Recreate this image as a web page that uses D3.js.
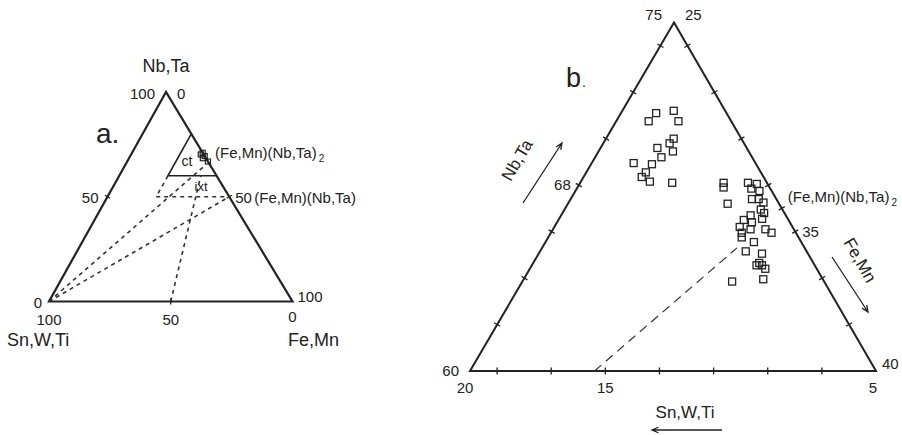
<!DOCTYPE html>
<html>
<head>
<meta charset="utf-8">
<script src="https://cdn.jsdelivr.net/npm/d3@7"></script>
<style>
  body { margin: 0; background: #fff; }
  text { font-family: "Liberation Sans", Arial, sans-serif; fill: #222; }
</style>
</head>
<body>
<div class="box"></div>
<script>
//////////////////données panneau a (en %)///////////////////////
// (Nb,Ta) et (Fe,Mn) ; Sn,W,Ti = le reste
const aPointsNb = [71, 69.4, 68.4, 66.8, 70.2];
const aPointsFe = [29, 30.6, 30.3, 33.2, 28.6];

// champ ct (trait plein)
const aChampCt = [[80, 20], [60, 20], [60, 40]];

// traits pointillés
const aTirets = [
    [[60, 20], [50, 20]],
    [[50, 20], [50, 50]],
    [[0, 0], [64, 32.4]],
    [[0, 0], [50, 50]],
    [[0, 50], [60, 33.5]]
];
const aGraduations = [50];

//////////////////données panneau b (en %)///////////////////////
const groupe1 = [
    {nb: 71.1, fe: 26.3}, {nb: 70.75, fe: 26.2}, {nb: 71.2, fe: 26.9}, {nb: 70.75, fe: 27.3},
    {nb: 70.0, fe: 27.5}, {nb: 69.8, fe: 27.45}, {nb: 69.6, fe: 27.1}, {nb: 69.45, fe: 27.75},
    {nb: 69.2, fe: 27.45}, {nb: 68.95, fe: 26.55}, {nb: 68.9, fe: 27.25}, {nb: 68.55, fe: 27.2},
    {nb: 68.35, fe: 27.15}, {nb: 68.15, fe: 27.55}, {nb: 68.1, fe: 28.4}
];
const groupe2 = [
    {nb: 68.1, fe: 30.3}, {nb: 67.9, fe: 30.4}, {nb: 67.2, fe: 30.9}, {nb: 68.1, fe: 31.2},
    {nb: 68.05, fe: 31.55}, {nb: 67.85, fe: 31.45}, {nb: 67.75, fe: 31.8}, {nb: 67.4, fe: 31.7},
    {nb: 67.4, fe: 31.95}, {nb: 67.25, fe: 32.2}, {nb: 66.95, fe: 32.25}, {nb: 66.8, fe: 32.45},
    {nb: 66.7, fe: 32.0}, {nb: 66.55, fe: 32.5}, {nb: 66.5, fe: 31.85}, {nb: 66.4, fe: 32.2},
    {nb: 66.2, fe: 31.85}, {nb: 66.1, fe: 32.3}, {nb: 66.1, fe: 32.85}, {nb: 65.95, fe: 33.15},
    {nb: 65.95, fe: 32.05}, {nb: 65.75, fe: 32.15}, {nb: 65.55, fe: 32.7}, {nb: 65.15, fe: 32.6},
    {nb: 65.05, fe: 33.25}, {nb: 64.55, fe: 33.3}, {nb: 64.55, fe: 33.5}, {nb: 64.4, fe: 33.7},
    {nb: 63.95, fe: 33.85}, {nb: 63.85, fe: 32.75}, {nb: 64.65, fe: 33.35}
];
const bTicksNb = [62, 64, 66, 68, 70, 72, 74];
const bTicksFe = [26, 28, 30, 32, 33, 34, 36, 38];
const bTicksSn = [7, 9, 11, 13, 15, 17, 19];
const bLigne = [[60, 29.6], [65.3, 32.2]];

//////////////////mise en place///////////////////////
const svg = d3.select('.box')
              .append('svg')
              .attr('width', 902)
              .attr('height', 435);

// projection ternaire : coin haut = Nb,Ta ; gauche = Sn,W,Ti ; droite = Fe,Mn
const ternaire = (s, domNb, domFe) => {
    const u = d3.scaleLinear().domain(domNb).range([0, 1]);
    const v = d3.scaleLinear().domain(domFe).range([0, 1]);
    return (nb, fe) => [
        s.gauche[0] + (s.haut[0] - s.gauche[0]) * u(nb) + (s.droite[0] - s.gauche[0]) * v(fe),
        s.gauche[1] + (s.haut[1] - s.gauche[1]) * u(nb) + (s.droite[1] - s.gauche[1]) * v(fe)
    ];
};

const ligne = d3.line();

const texte = (g, x, y, t, taille, ancre) =>
    g.append('text').attr('x', x).attr('y', y).attr('font-size', taille)
     .attr('text-anchor', ancre || 'start').text(t);

// formule avec indice 2
const formule = (g, x, y, taille) => {
    const t = texte(g, x, y, '(Fe,Mn)(Nb,Ta)', taille);
    t.append('tspan').attr('dy', 4).attr('dx', 2).attr('font-size', 10).text('2');
};

// petite graduation perpendiculaire au côté
const graduation = (g, p, a, b, l) => {
    const dx = b[0] - a[0], dy = b[1] - a[1], n = Math.hypot(dx, dy);
    const nx = -dy / n * l, ny = dx / n * l;
    g.append('path')
     .attr('d', ligne([[p[0] - nx, p[1] - ny], [p[0] + nx, p[1] + ny]]))
     .attr('stroke', '#222').attr('stroke-width', 1.3).attr('fill', 'none');
};

const fleche = (g, de, a) => {
    const ang = Math.atan2(a[1] - de[1], a[0] - de[0]);
    const t = 7, o = 0.4;
    g.append('path')
     .attr('d', ligne([de, a]) + 'M' + (a[0] - t * Math.cos(ang - o)) + ',' + (a[1] - t * Math.sin(ang - o)) +
          'L' + a[0] + ',' + a[1] + 'L' + (a[0] - t * Math.cos(ang + o)) + ',' + (a[1] - t * Math.sin(ang + o)))
     .attr('stroke', '#222').attr('stroke-width', 1.3).attr('fill', 'none');
};

//////////////////panneau a///////////////////////
const ga = svg.append('g');
const sa = {haut: [166, 92], gauche: [49, 301.5], droite: [292.5, 301.5]};
const pa = ternaire(sa, [0, 100], [0, 100]);

ga.append('path')
  .attr('d', ligne([pa(100, 0), pa(0, 0), pa(0, 100)]) + 'Z')
  .attr('fill', 'none').attr('stroke', '#222').attr('stroke-width', 2.2)
  .attr('stroke-linejoin', 'miter');

ga.append('path')
  .attr('d', ligne(aChampCt.map(d => pa(d[0], d[1]))))
  .attr('fill', 'none').attr('stroke', '#222').attr('stroke-width', 1.6);

ga.selectAll('.tiret')
  .data(aTirets)
  .enter()
  .append('path')
  .attr('d', d => ligne(d.map(p => pa(p[0], p[1]))))
  .attr('fill', 'none').attr('stroke', '#333').attr('stroke-width', 1.6)
  .attr('stroke-dasharray', '4,4');

aGraduations.forEach(v => {
    graduation(ga, pa(v, 0), pa(0, 0), pa(100, 0), 3);
    graduation(ga, pa(0, v), pa(0, 0), pa(0, 100), 3);
    graduation(ga, pa(v, 100 - v), pa(100, 0), pa(0, 100), 3);
});

ga.selectAll('rect')
  .data(aPointsNb)
  .enter()
  .append('rect')
  .attr('x', (d, i) => pa(d, aPointsFe[i])[0] - 2.5)
  .attr('y', (d, i) => pa(d, aPointsFe[i])[1] - 2.5)
  .attr('width', 5).attr('height', 5)
  .attr('fill', 'none').attr('stroke', '#222').attr('stroke-width', 1.2);

const A = pa(100, 0), G = pa(0, 0), D = pa(0, 100);
texte(ga, A[0], 72, 'Nb,Ta', 18, 'middle');
texte(ga, A[0] - 11, 99, '100', 15, 'end');
texte(ga, A[0] + 11, 99, '0', 15);
texte(ga, 96, 143, 'a.', 28);
texte(ga, pa(50, 0)[0] - 9, pa(50, 0)[1] + 6, '50', 15, 'end');
texte(ga, pa(50, 50)[0] + 6, pa(50, 50)[1] + 6, '50', 15);
texte(ga, pa(50, 50)[0] + 25, pa(50, 50)[1] + 6, '(Fe,Mn)(Nb,Ta)', 15);
formule(ga, 215, 158, 15);
texte(ga, 187, 166, 'ct', 14, 'middle');
texte(ga, 201, 191, 'ixt', 13, 'middle');
texte(ga, G[0] - 7, G[1] + 6, '0', 15, 'end');
texte(ga, G[0], 325, '100', 15, 'middle');
texte(ga, pa(0, 50)[0], 325, '50', 15, 'middle');
texte(ga, D[0], 322, '0', 15, 'middle');
texte(ga, D[0] + 5, 302, '100', 15);
texte(ga, 7, 346, 'Sn,W,Ti', 18);
texte(ga, 288, 346, 'Fe,Mn', 18);

//////////////////panneau b///////////////////////
const gb = svg.append('g');
const sb = {haut: [674, 22.5], gauche: [470, 371], droite: [876, 371]};
const pb = ternaire(sb, [60, 75], [25, 40]);

gb.append('path')
  .attr('d', ligne([pb(75, 25), pb(60, 25), pb(60, 40)]) + 'Z')
  .attr('fill', 'none').attr('stroke', '#222').attr('stroke-width', 2)
  .attr('stroke-linejoin', 'miter');

// graduations : gauche Nb,Ta ; droite Fe,Mn ; bas Sn,W,Ti
bTicksNb.forEach(v => graduation(gb, pb(v, 25), pb(60, 25), pb(75, 25), 3.5));
bTicksFe.forEach(v => graduation(gb, pb(100 - v, v), pb(75, 25), pb(60, 40), 3.5));
bTicksSn.forEach(v => graduation(gb, pb(60, 45 - v), pb(60, 25), pb(60, 40), 3.5));

gb.append('path')
  .attr('d', ligne(bLigne.map(p => pb(p[0], p[1]))))
  .attr('fill', 'none').attr('stroke', '#333').attr('stroke-width', 1.2)
  .attr('stroke-dasharray', '9,6');

gb.selectAll('rect')
  .data(groupe1.concat(groupe2))
  .enter()
  .append('rect')
  .attr('x', d => pb(d.nb, d.fe)[0] - 3.5)
  .attr('y', d => pb(d.nb, d.fe)[1] - 3.5)
  .attr('width', 7).attr('height', 7)
  .attr('fill', 'none').attr('stroke', '#222').attr('stroke-width', 1.3);

const Ab = pb(75, 25), Gb = pb(60, 25), Db = pb(60, 40);
texte(gb, Ab[0] - 12, 20, '75', 15, 'end');
texte(gb, Ab[0] + 11, 20, '25', 15);
texte(gb, 566, 87, 'b', 27);
texte(gb, 582, 87, '.', 14);
texte(gb, pb(68, 25)[0] - 8, pb(68, 25)[1] + 5, '68', 15, 'end');
texte(gb, pb(66, 34)[0] + 7, pb(66, 34)[1] + 5, '35', 15);
formule(gb, pb(67, 33)[0] + 6, pb(67, 33)[1] - 6, 15);
texte(gb, Gb[0] - 11, Gb[1] + 5, '60', 15, 'end');
texte(gb, Gb[0] - 5, 393, '20', 15, 'middle');
texte(gb, pb(60, 30)[0], 393, '15', 15, 'middle');
texte(gb, Db[0] - 3, 393, '5', 15, 'middle');
texte(gb, Db[0] + 6, 369, '40', 15);

// titres des axes avec flèches
gb.append('text')
  .attr('transform', 'translate(522,163) rotate(-59.7)')
  .attr('font-size', 17).attr('text-anchor', 'middle').text('Nb,Ta');
fleche(gb, [523, 203], [562, 143]);

gb.append('text')
  .attr('transform', 'translate(855,263) rotate(59.9)')
  .attr('font-size', 17).attr('text-anchor', 'middle').text('Fe,Mn');
fleche(gb, [832, 257], [868, 312]);

texte(gb, 685, 418, 'Sn,W,Ti', 17, 'middle');
fleche(gb, [722, 430], [652, 430]);
</script>
</body>
</html>
